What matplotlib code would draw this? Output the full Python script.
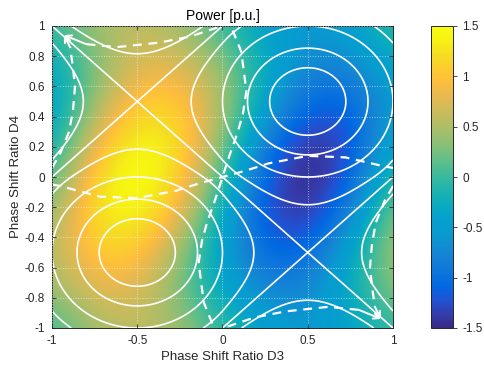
import numpy as np
import matplotlib
matplotlib.use("Agg")
import matplotlib.pyplot as plt
import matplotlib.tri as mtri
from matplotlib.colors import LinearSegmentedColormap
from matplotlib.ticker import FormatStrFormatter

plt.rcParams['font.family'] = ['Liberation Sans', 'DejaVu Sans']
plt.rcParams['axes.unicode_minus'] = False

# grid nodes (D3 along x, D4 along y)
d3 = [-1, -0.75, -0.5, -0.25, 0, 0.25, 0.5, 0.75, 1]
d4 = [-1, -0.75, -0.5, -0.25, 0, 0.25, 0.5, 0.75, 1]

power = [
    [0.00, 0.43, 0.60, 0.43, 0.00, -0.43, -0.60, -0.43, 0.00],
    [0.36, 0.77, 0.75, 0.27, -0.36, -0.77, -0.75, -0.27, 0.36],
    [0.50, 1.12, 1.08, 0.39, -0.50, -1.09, -1.08, -0.39, 0.50],
    [0.36, 1.28, 1.45, 0.85, -0.36, -1.25, -1.45, -0.80, 0.36],
    [0.00, 1.20, 1.58, 1.20, 0.00, -1.20, -1.58, -1.20, 0.00],
    [-0.36, 0.80, 1.45, 1.25, 0.36, -0.85, -1.45, -1.28, -0.36],
    [-0.50, 0.39, 1.08, 1.09, 0.50, -0.39, -1.08, -1.12, -0.50],
    [-0.36, 0.27, 0.75, 0.77, 0.36, -0.27, -0.75, -0.77, -0.36],
    [0.00, 0.43, 0.60, 0.43, 0.00, -0.43, -0.60, -0.43, 0.00],
]

# quantity shown by the white contour lines, same grid
second = [
    [0.00, -0.75, -1.00, -0.75, 0.00, 0.75, 1.00, 0.75, 0.00],
    [-0.75, -1.50, -1.75, -1.50, -0.75, 0.00, 0.25, 0.00, -0.75],
    [-1.00, -1.75, -2.00, -1.75, -1.00, -0.25, 0.00, -0.25, -1.00],
    [-0.75, -1.50, -1.75, -1.50, -0.75, 0.00, 0.25, 0.00, -0.75],
    [0.00, -0.75, -1.00, -0.75, 0.00, 0.75, 1.00, 0.75, 0.00],
    [0.75, 0.00, -0.25, 0.00, 0.75, 1.50, 1.75, 1.50, 0.75],
    [1.00, 0.25, 0.00, 0.25, 1.00, 1.75, 2.00, 1.75, 1.00],
    [0.75, 0.00, -0.25, 0.00, 0.75, 1.50, 1.75, 1.50, 0.75],
    [0.00, -0.75, -1.00, -0.75, 0.00, 0.75, 1.00, 0.75, 0.00],
]
# slope of that quantity along D3 (per column) and along D4 (per row)
second_slope_d3 = [-4, -2, 0, 2, 4, 2, 0, -2, -4]
second_slope_d4 = [-4, -2, 0, 2, 4, 2, 0, -2, -4]
contour_levels = [-1.8, -1.5, -1, -0.4, 0, 0.4, 1, 1.5, 1.8]

# dashed trajectories
traj_h_x = [-1.0, -0.95, -0.72, -0.5, -0.27, -0.13, 0.0, 0.13, 0.27, 0.5, 0.72, 0.95, 1.0]
traj_h_y = [-0.05, -0.06, -0.13, -0.14, -0.09, -0.04, 0.0, 0.04, 0.09, 0.14, 0.13, 0.07, 0.06]
traj_v_x = [-0.06, -0.11, -0.14, -0.12, -0.09, -0.04, 0.0, 0.04, 0.09, 0.12, 0.14, 0.11, 0.06]
traj_v_y = [-0.97, -0.83, -0.57, -0.42, -0.3, -0.14, 0.0, 0.14, 0.3, 0.42, 0.57, 0.83, 0.97]
traj_top_x = [-0.03, -0.19, -0.37, -0.62, -0.8, -0.93]
traj_top_y = [0.99, 0.93, 0.89, 0.86, 0.88, 0.94]
traj_left_x = [-1.0, -0.95, -0.9, -0.877, -0.865, -0.88, -0.894, -0.93]
traj_left_y = [0.06, 0.16, 0.3, 0.44, 0.6, 0.75, 0.86, 0.94]
traj_bot_x = [0.03, 0.19, 0.37, 0.62, 0.8, 0.93]
traj_bot_y = [-0.99, -0.93, -0.89, -0.86, -0.88, -0.94]
traj_right_x = [1.0, 0.95, 0.9, 0.877, 0.865, 0.88, 0.894, 0.93]
traj_right_y = [-0.06, -0.16, -0.3, -0.44, -0.6, -0.75, -0.86, -0.94]

x_ticks = [-1, -0.5, 0, 0.5, 1]
y_ticks = [-1, -0.8, -0.6, -0.4, -0.2, 0, 0.2, 0.4, 0.6, 0.8, 1]
cbar_ticks = [-1.5, -1, -0.5, 0, 0.5, 1, 1.5]

# MATLAB parula, sampled
parula = [
    (0.2081, 0.1663, 0.5292), (0.2081, 0.2386, 0.6771), (0.1253, 0.3242, 0.8303),
    (0.0060, 0.4086, 0.8828), (0.0498, 0.4586, 0.8641), (0.0779, 0.5040, 0.8384),
    (0.0641, 0.5570, 0.8240), (0.0265, 0.6137, 0.8135), (0.0239, 0.6287, 0.8038),
    (0.0384, 0.6743, 0.7436), (0.1133, 0.7015, 0.6859), (0.2178, 0.7250, 0.6193),
    (0.3482, 0.7424, 0.5473), (0.4871, 0.7491, 0.4840), (0.6099, 0.7473, 0.4337),
    (0.7184, 0.7411, 0.3905), (0.8185, 0.7327, 0.3498), (0.9139, 0.7258, 0.3063),
    (0.9938, 0.7455, 0.2403), (0.9880, 0.8066, 0.1794), (0.9626, 0.8705, 0.1309),
    (0.9661, 0.9514, 0.0755), (0.9763, 0.9831, 0.0538),
]
cmap = LinearSegmentedColormap.from_list('parula', parula)

X, Y = np.meshgrid(d3, d4)
triang = mtri.Triangulation(X.ravel(), Y.ravel())
refiner = mtri.UniformTriRefiner(triang)
s_flat = np.array(second).ravel()
sx, sy = np.meshgrid(second_slope_d3, second_slope_d4)
fine_tri, fine_second = refiner.refine_field(
    s_flat, mtri.CubicTriInterpolator(triang, s_flat, kind='user',
                                      dz=(sx.ravel(), sy.ravel())), subdiv=4)

fig = plt.figure(figsize=(4.85, 3.67), dpi=100)
ax = fig.add_axes([52 / 485, 39 / 367, 341 / 485, 302 / 367])
cax = fig.add_axes([431 / 485, 39 / 367, 22 / 485, 302 / 367])

half = (d3[1] - d3[0]) / 2
im = ax.imshow(power, origin='lower', cmap=cmap, vmin=-1.5, vmax=1.5,
               interpolation='bicubic', interpolation_stage='data', aspect='auto',
               extent=[d3[0] - half, d3[-1] + half, d4[0] - half, d4[-1] + half])
ax.tricontour(fine_tri, fine_second, levels=contour_levels, colors='white',
              linewidths=1.2, linestyles='solid')

dash = dict(color='white', lw=1.6, ls=(0, (4, 3)))
ax.plot(traj_h_x, traj_h_y, **dash)
ax.plot(traj_v_x, traj_v_y, **dash)
for tx, ty in [(traj_top_x, traj_top_y), (traj_left_x, traj_left_y),
               (traj_bot_x, traj_bot_y), (traj_right_x, traj_right_y)]:
    ax.plot(tx[:-1], ty[:-1], **dash)
    ax.annotate('', xy=(tx[-1], ty[-1]), xytext=(tx[-2], ty[-2]),
                arrowprops=dict(arrowstyle='->', color='white', lw=1.4,
                                mutation_scale=10, shrinkA=0, shrinkB=0))

ax.set_xlim(-1, 1)
ax.set_ylim(-1, 1)
ax.set_xticks(x_ticks)
ax.set_yticks(y_ticks)
ax.xaxis.set_major_formatter(FormatStrFormatter('%g'))
ax.yaxis.set_major_formatter(FormatStrFormatter('%g'))
ax.tick_params(direction='in', length=3, width=0.6, top=True, right=True,
               labelsize=8.5, colors='#262626', pad=5)
ax.set_axisbelow(False)
ax.grid(True, color='white', alpha=0.55, ls=':', lw=0.7)
for s in ax.spines.values():
    s.set_color('#262626')
    s.set_linewidth(0.7)

ax.set_xlabel('Phase Shift Ratio D3', fontsize=9.5, color='#262626', labelpad=3)
ax.set_ylabel('Phase Shift Ratio D4', fontsize=9.5, color='#262626', labelpad=2)
ax.set_title('Power [p.u.]', fontsize=10, color='black', pad=4)

cb = fig.colorbar(im, cax=cax, ticks=cbar_ticks)
cb.ax.yaxis.set_major_formatter(FormatStrFormatter('%g'))
cb.ax.tick_params(labelsize=8.5, length=3, width=0.6, colors='#262626')
cb.outline.set_edgecolor('#262626')
cb.outline.set_linewidth(0.7)

fig.savefig('out.png', dpi=100)
